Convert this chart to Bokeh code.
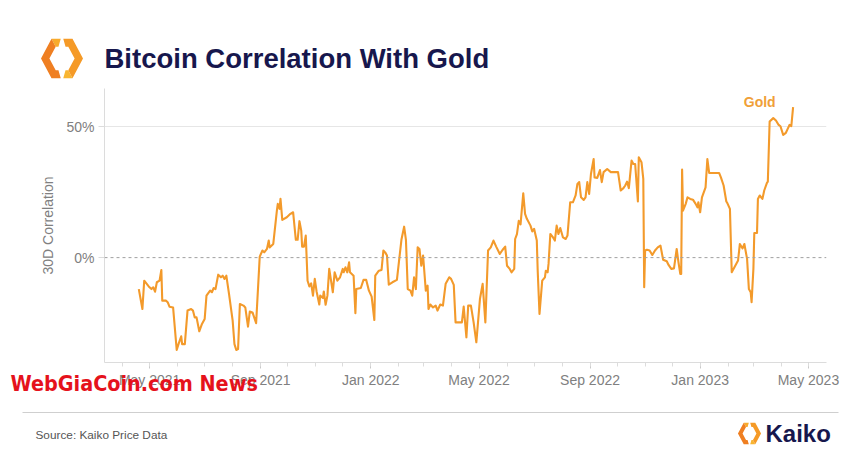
import pandas as pd
from bokeh.plotting import figure
from bokeh.layouts import column
from bokeh.models import (Range1d, FixedTicker, DatetimeTickFormatter, PrintfTickFormatter,
                          Span, Label, Title, ColumnDataSource)
from bokeh.core.properties import value
from bokeh.embed import file_html
from bokeh.resources import INLINE

# ---------------- data (days after 2021-05-01, 30D correlation in %) ----------------
start_date = "2021-05-01"
days = [-12, -8, -6, -1, 2, 4, 6, 8, 11, 13, 14, 18, 20, 22, 26, 30, 32, 35, 36, 39,
        42, 46, 48, 50, 52, 55, 58, 61, 63, 67, 69, 71, 73, 76, 79, 81, 83, 85, 88, 92,
        94, 96, 98, 100, 104, 106, 109, 111, 114, 118, 122, 125, 127, 130, 132, 133, 137, 141, 142, 144,
        145, 147, 152, 156, 159,
        162, 164, 166, 168, 169, 171, 173, 175, 177, 179, 181, 183, 185, 188, 189, 192, 193, 195, 197, 199,
        203, 205, 208, 211, 214, 215, 217, 219, 221, 222, 226, 228, 229, 234, 237, 240, 243, 246, 249, 250,
        254, 257, 259, 261, 263, 265, 269, 274, 279, 282, 284, 286, 289, 291, 293, 295, 297, 299, 301, 303,
        306, 308, 309, 311, 314, 317, 319, 322, 325, 328, 332, 334, 337,
        339, 346, 348, 351, 353, 356, 359, 362, 366, 369, 372, 375, 378, 381, 384, 388, 391, 394, 396, 399,
        401, 404, 405, 407, 409, 411, 414, 416, 418, 422, 424, 426, 429, 430, 432, 435, 438, 439, 441, 442,
        444, 447, 449, 451, 453, 455, 458, 461, 463, 466, 469, 472, 474, 476, 478, 481, 483, 485, 487, 489,
        492, 493, 496, 499, 501, 503, 507, 511,
        519, 522, 525, 527, 529, 531, 534, 536, 538, 541, 542, 545, 547, 548, 549, 551, 554, 557, 560, 563,
        566, 569, 573, 575, 578, 581, 584, 586, 588, 589, 590, 591, 594, 596, 599, 602, 605, 607, 608, 610,
        612, 616, 618, 620, 631, 633, 636, 639, 640, 643, 645, 648, 652, 654, 657, 659, 662, 664, 666, 667,
        669, 670, 673, 674, 676, 679, 681, 684, 685, 687, 691, 694, 697, 699, 702, 705, 707, 709, 711, 713]
corr = [-12, -19.6, -8.8, -11, -12, -11.3, -13, -9.4, -8.8, -4.7, -16.4, -16.4, -17, -18.7, -19, -35.2, -33, -30, -33, -33,
        -20.2, -19.6, -20.2, -22.8, -22.8, -28.1, -25.3, -23.4, -14.5, -12.6, -13.2, -11.6, -12, -6.5, -7.5, -6.9, -8.1, -6.9, -13.9, -24,
        -33, -35.2, -34.9, -17.7, -18.3, -19, -26.3, -20.6, -20.9, -25, 0.4, 2.7, 2, 3.3, 6.5, 3.9, 5.2, 17.9, 20.5, 18.6,
        22.4, 14.4, 15.4, 16.7, 17.3,
        6.8, 6.8, 13.9, 10.3, 4.2, 4.2, 8.4, -8.8, -11, -9.8, -14.5, -8.1, -12.9, -17.9, -14.5, -15.4, -12.9, -18, -14.5, -4.3,
        -13.2, -5.6, -8.8, -7.5, -4.3, -5.6, -3.7, -5.6, -1.8, -5.6, -6.9, -21.2, -12, -11.6, -8.5, -8.5, -12.6, -14.9, -23.8, -6.9,
        -5, -4.7, 2.7, 2, 0.8, -10.3, -9.4, -8.5, 6.8, 11.8, 6.8, -12, -12.6, -14.5, -7.5, -12, 3.9, 3.3, -3.1, 0.8,
        -12.6, -10.7, -19.6, -17.9, -19, -18.3, -20.2, -17.9, -18.3, -10, -7.5, -8.1, -10.4,
        -24.7, -24.7, -18.7, -30.4, -18.3, -18.3, -24.7, -32.3, -15.8, -10, -24.7, 2.7, 3.9, 6.5, 4.2, 1.4, 2.9, 4.2, -3.1, -4.3,
        -5.6, -4.3, 7.1, 9, 14, 12.7, 24.5, 16.7, 14.8, 12.2, 10, 11, 6.5, -5, -21.5, -8.8, -7.5, -5, -5.6, -2.4,
        9, 7.7, 6.5, 12.2, 9, 11.3, 7.7, 7.1, 8.4, 21.1, 21.1, 23.7, 28.1, 28.8, 23, 22, 23, 28.8, 24.3, 31.9,
        37.6, 30.6, 30.4, 33.4, 28.8, 32.6, 33.8, 32.6,
        32.6, 25.6, 26.5, 27.5, 29, 26.5, 37, 35.7, 35.7, 21.4, 38.3, 36.4, 30, -11.3, 2.7, 3, 2.7, 1, 2.7, 3.9,
        4.6, -0.8, -1.4, -2.8, -4.3, -4.1, 3.3, -1.8, -6.2, -6.2, 33.6, 17.9, 20.5, 23, 22.4, 22.1, 20.5, 19.2, 21.1, 17.3,
        23, 26.8, 37.6, 32.3, 32.3, 30.6, 27.5, 21.4, 20.9, 18.6, -5.6, -3.7, -1.1, 5.2, 3.5, 5.2, -0.5, -12, -13.2, -17,
        -4.3, 9.4, 9.4, 22.4, 23.7, 22.4, 25.6, 28.5, 29, 51.9, 53.2, 52.3, 50.6, 50.1, 46.8, 47.6, 49.1, 50.6, 50.1, 57.4]

y_ticks = [0, 50]
major_tick_dates = ["2021-05-01", "2021-09-01", "2022-01-01", "2022-05-01", "2022-09-01", "2023-01-01", "2023-05-01"]
title_text = "Bitcoin Correlation With Gold"
series_name = "Gold"
y_title = "30D Correlation"
source_text = "Source: Kaiko Price Data"
brand = "Kaiko"
watermark = "WebGiaCoin.com News"

W = 852
FONT = "Liberation Sans"
NAVY = "#17174d"
LINE = "#f39a2b"

def ms(ts):
    return pd.Timestamp(ts).value / 1e6

def bare(h, y0, y1):
    f = figure(width=W, height=h, x_range=Range1d(0, W), y_range=Range1d(y1, y0),
               output_backend="svg", toolbar_location=None,
               x_axis_location=None, y_axis_location=None,
               min_border_left=0, min_border_right=0, min_border_top=0, min_border_bottom=0)
    f.outline_line_color = None
    f.grid.visible = False
    f.frame_align = False
    return f

def logo(f, cx, cy, s):
    # hexagonal ring split into two rotationally symmetric chevrons
    import math
    R, r, k = 21.0, 12.6, 1.08
    def v(rad, ang):
        a = math.radians(ang)
        return (rad * math.cos(a), rad * k * math.sin(a))
    angs = {"R": 0, "LR": 60, "LL": 120, "L": 180, "UL": 240, "UR": 300}
    O = {n: v(R, a) for n, a in angs.items()}
    I = {n: v(r, a) for n, a in angs.items()}
    def lerp(a, b, t):
        return (a[0] + (b[0] - a[0]) * t, a[1] + (b[1] - a[1]) * t)
    pto, pti = lerp(O["UR"], O["UL"], 0.56), lerp(I["UR"], I["UL"], 0.78)
    pbo, pbi = lerp(O["LL"], O["LR"], 0.44), lerp(I["LL"], I["LR"], 0.22)
    arm = [pto, O["UL"], I["UL"], pti]
    rest = [O["UL"], O["L"], O["LL"], pbo, pbi, I["LL"], I["L"], I["UL"]]
    def draw(pts, sign, color):
        f.patch([cx + sign * s * q[0] for q in pts], [cy + sign * s * q[1] for q in pts],
                fill_color=color, line_color=None)
    draw(arm, 1, "#f8ab2c")
    draw(rest, 1, "#ef7f22")
    draw(arm, -1, "#f8b531")
    draw(rest, -1, "#f59a27")

# ---------------- header ----------------
H = bare(88, 0, 88)
logo(H, 61.5, 58, 1.0)
H.text(x=[104], y=[58], text=[title_text], text_baseline="middle", text_color=NAVY,
       text_font=value(FONT), text_font_style="bold", text_font_size="27.5px")

# ---------------- main chart ----------------
t0 = pd.Timestamp(start_date)
dates = [t0 + pd.Timedelta(days=d) for d in days]
src = ColumnDataSource(dict(date=dates, corr=corr))

p = figure(width=W, height=312, x_axis_type="datetime",
           x_range=Range1d(ms("2021-03-12"), ms("2023-05-21")), y_range=Range1d(-40, 64.5),
           output_backend="svg", toolbar_location=None,
           min_border_left=104, min_border_right=26, min_border_top=0, min_border_bottom=38)
p.outline_line_color = None
p.frame_align = False
p.line("date", "corr", source=src, line_color=LINE, line_width=2.1, line_join="round")

axis_grey = "#dcdcdc"
label_grey = "#808080"
p.yaxis.ticker = FixedTicker(ticks=y_ticks)
p.yaxis.formatter = PrintfTickFormatter(format="%d%%")
p.yaxis.axis_line_color = axis_grey
p.yaxis.major_tick_line_color = axis_grey
p.yaxis.major_tick_out = 6
p.yaxis.major_tick_in = 0
p.yaxis.minor_tick_line_color = None
p.yaxis.major_label_standoff = 4
p.yaxis.major_label_text_font = FONT
p.yaxis.major_label_text_font_size = "14px"
p.yaxis.major_label_text_color = label_grey
p.yaxis.axis_label = y_title
p.yaxis.axis_label_text_font = FONT
p.yaxis.axis_label_text_font_style = "normal"
p.yaxis.axis_label_text_font_size = "14px"
p.yaxis.axis_label_text_color = label_grey
p.yaxis.axis_label_standoff = 7

major = [ms(d) for d in major_tick_dates]
minor = [ms(d) for d in pd.date_range("2021-04-01", "2023-05-01", freq="MS")]
p.xaxis.ticker = FixedTicker(ticks=major, minor_ticks=minor)
fmt = "%b %Y"
p.xaxis.formatter = DatetimeTickFormatter(days=fmt, months=fmt, years=fmt, hours=fmt)
p.xaxis.axis_line_color = axis_grey
p.xaxis.major_tick_line_color = "#c8c8c8"
p.xaxis.minor_tick_line_color = axis_grey
p.xaxis.major_tick_out = 6
p.xaxis.major_tick_in = 0
p.xaxis.minor_tick_out = 4
p.xaxis.minor_tick_in = 0
p.xaxis.major_label_standoff = 3
p.xaxis.major_label_text_font = FONT
p.xaxis.major_label_text_font_size = "14px"
p.xaxis.major_label_text_color = label_grey

p.xgrid.grid_line_color = None
p.ygrid.ticker = FixedTicker(ticks=[50])
p.ygrid.grid_line_color = "#e6e6e6"
p.add_layout(Span(location=0, dimension="width", line_color="#a0a0a0", line_dash="3 3", line_width=1))

p.add_layout(Label(x=ms("2023-03-08"), y=59.2, text=series_name, text_align="center",
                   text_baseline="middle", text_color="#f0a038", text_font=FONT,
                   text_font_style="bold", text_font_size="14px"))

p.add_layout(Title(text=watermark, align="left", offset=-94, standoff=-40, vertical_align="top",
                   text_color="#e5121c", text_font="DejaVu Sans Condensed, Roboto, sans-serif",
                   text_font_style="bold", text_font_size="21.4px"), "below")

# ---------------- footer ----------------
F = bare(55, 400, 455)
F.segment(x0=[22], y0=[412], x1=[838], y1=[412], line_color="#cfcfcf", line_width=1)
F.text(x=[35], y=[434], text=[source_text], text_baseline="middle", text_color="#555555",
       text_font=value(FONT), text_font_size="11.8px")
logo(F, 749, 433, 0.55)
F.text(x=[765], y=[433], text=[brand], text_baseline="middle", text_color=NAVY,
       text_font=value(FONT), text_font_style="bold", text_font_size="24px")

layout = column(H, p, F, spacing=0)
open("out.html", "w").write(file_html(layout, INLINE))
